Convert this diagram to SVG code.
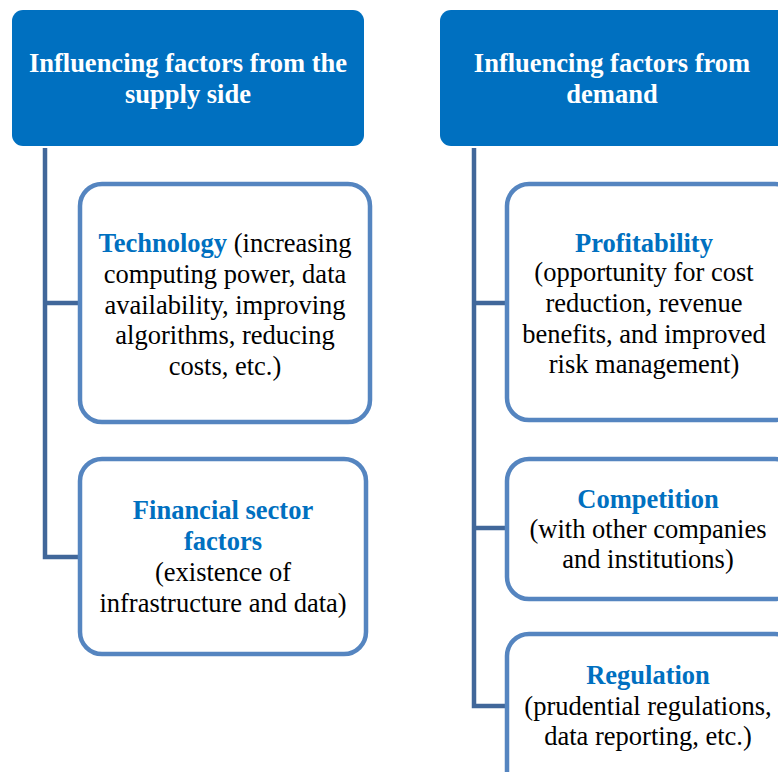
<svg xmlns="http://www.w3.org/2000/svg" width="778" height="772" viewBox="0 0 778 772">
<style>
.hdr{fill:#0070C0;}
.hdrt{font-family:"Liberation Serif","Times New Roman",serif;font-size:26.5px;font-weight:bold;fill:#ffffff;text-anchor:middle;}
.box{fill:#ffffff;stroke:#5585C0;stroke-width:4.5;}
.t{font-family:"Liberation Serif","Times New Roman",serif;font-size:26.5px;fill:#000000;text-anchor:middle;}
.b{font-weight:bold;fill:#0070C0;}
.con{fill:none;stroke:#41679A;stroke-width:4.5;}
</style>
<rect width="778" height="772" fill="#ffffff"/>
<g id="connectors">
<path class="con" d="M45,148 V557 H80 M45,303 H80"/>
<path class="con" d="M474,148 V706 H507 M474,303 H507 M474,528 H507"/>
</g>
<g id="supply-header">
<rect class="hdr" x="12" y="10" width="352" height="136" rx="11"/>
<text class="hdrt" x="188" y="72">Influencing factors from the</text>
<text class="hdrt" x="188" y="103">supply side</text>
</g>
<g id="demand-header">
<rect class="hdr" x="440" y="10" width="352" height="136" rx="11"/>
<text class="hdrt" x="612" y="72">Influencing factors from</text>
<text class="hdrt" x="612" y="103">demand</text>
</g>
<g id="technology">
<rect class="box" x="80" y="184" width="290" height="238" rx="22"/>
<text class="t" x="225" y="252"><tspan class="b">Technology</tspan> (increasing</text>
<text class="t" x="225" y="283">computing power, data</text>
<text class="t" x="225" y="314">availability, improving</text>
<text class="t" x="225" y="344">algorithms, reducing</text>
<text class="t" x="225" y="375">costs, etc.)</text>
</g>
<g id="financial">
<rect class="box" x="80" y="459" width="286" height="195" rx="22"/>
<text class="t b" x="223" y="519">Financial sector</text>
<text class="t b" x="223" y="550">factors</text>
<text class="t" x="223" y="581">(existence of</text>
<text class="t" x="223" y="612">infrastructure and data)</text>
</g>
<g id="profitability">
<rect class="box" x="507" y="184" width="290" height="236" rx="22"/>
<text class="t b" x="644" y="252">Profitability</text>
<text class="t" x="644" y="281">(opportunity for cost</text>
<text class="t" x="644" y="312">reduction, revenue</text>
<text class="t" x="644" y="343">benefits, and improved</text>
<text class="t" x="644" y="373">risk management)</text>
</g>
<g id="competition">
<rect class="box" x="507" y="459" width="290" height="140" rx="22"/>
<text class="t b" x="648" y="508">Competition</text>
<text class="t" x="648" y="538">(with other companies</text>
<text class="t" x="648" y="568">and institutions)</text>
</g>
<g id="regulation">
<rect class="box" x="507" y="634" width="290" height="160" rx="22"/>
<text class="t b" x="648" y="684">Regulation</text>
<text class="t" x="648" y="715">(prudential regulations,</text>
<text class="t" x="648" y="745">data reporting, etc.)</text>
</g>
</svg>
